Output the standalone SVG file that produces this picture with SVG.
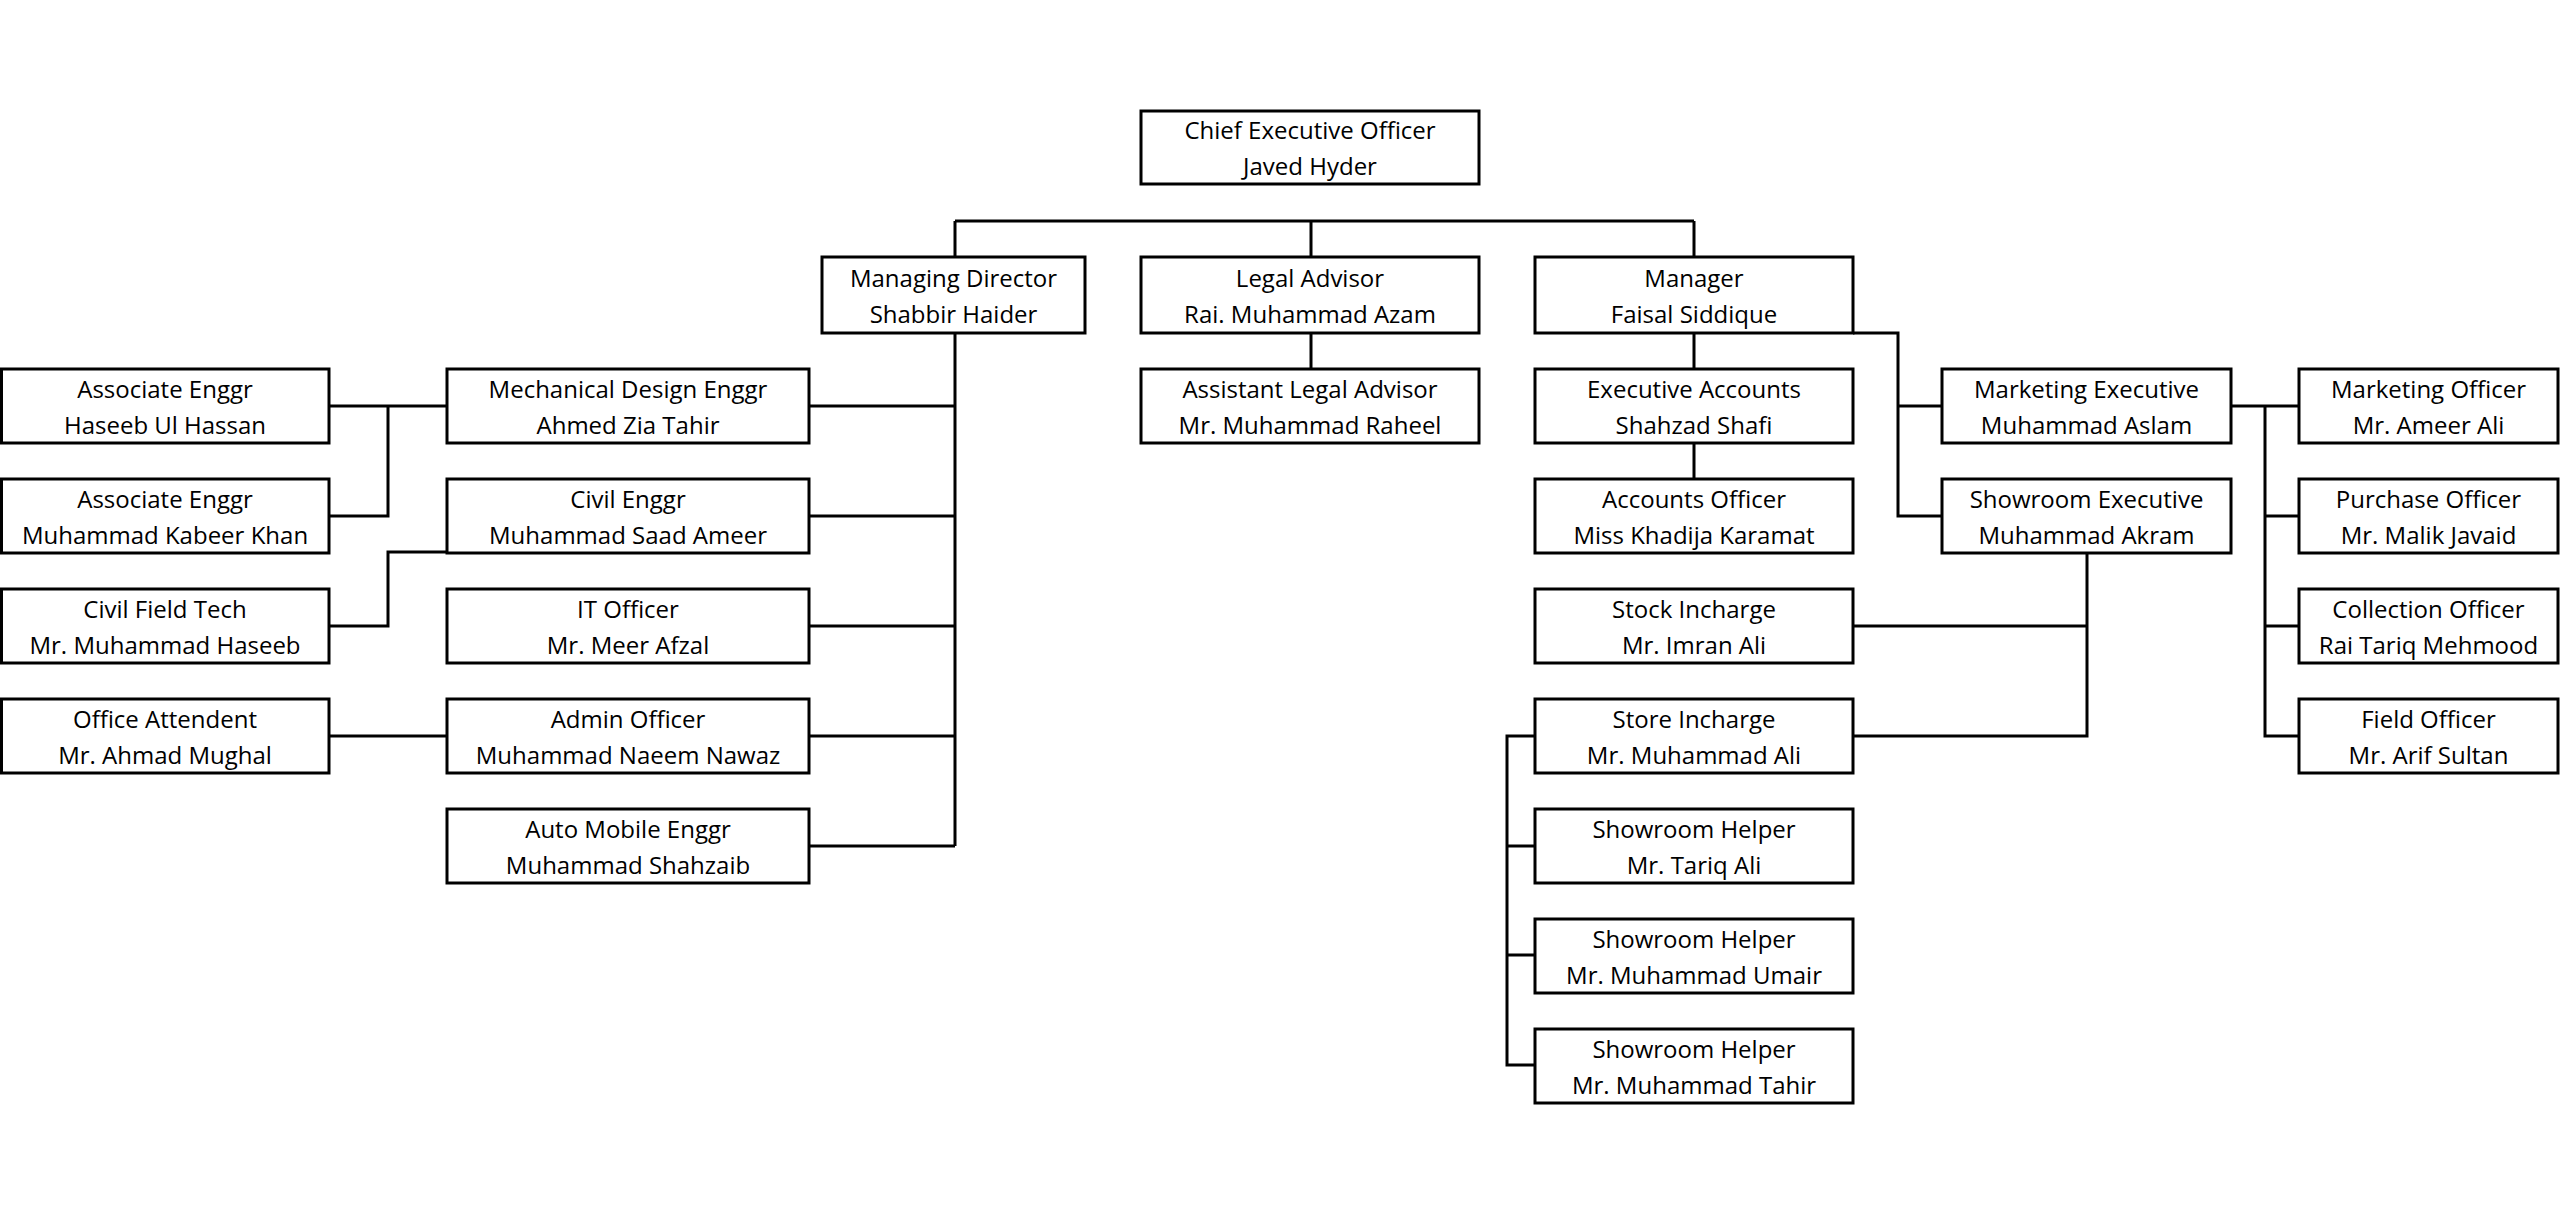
<svg xmlns="http://www.w3.org/2000/svg" width="2560" height="1213" viewBox="0 0 2560 1213">
<style>
.box{fill:#fff;stroke:#000;stroke-width:3}
.t{font-family:"Open Sans","Noto Sans",sans-serif;font-size:24px;fill:#000;text-anchor:middle}
.c{fill:none;stroke:#000;stroke-width:3}
</style>
<rect width="2560" height="1213" fill="#fff"/>
<g id="connectors" class="c">
<path d="M955 221H1694M955 221V257M1311 221V258M1694 221V257"/>
<path d="M1311 332V369"/>
<path d="M955 333V846M809 406H955M809 516H955M809 626H955M809 736H955M809 846H955"/>
<path d="M329 406H447M388 406V516H329M329 626H388V552H447M329 736H447"/>
<path d="M1694 333V369M1694 443V479"/>
<path d="M1853 333H1898V516H1942M1898 406H1942"/>
<path d="M2087 552V736H1853M1853 626H2087"/>
<path d="M1535 736H1507V1065H1535M1507 846H1535M1507 955H1535"/>
<path d="M2231 406H2299M2265 406V736H2299M2265 516H2299M2265 626H2299"/>
</g>
<g id="ceo"><rect class="box" x="1141" y="111" width="338" height="73"/><text class="t" x="1310" y="139">Chief Executive Officer</text><text class="t" x="1310" y="175">Javed Hyder</text></g>
<g id="md"><rect class="box" x="822" y="257" width="263" height="76"/><text class="t" x="953.5" y="287">Managing Director</text><text class="t" x="953.5" y="323">Shabbir Haider</text></g>
<g id="legal"><rect class="box" x="1141" y="257" width="338" height="76"/><text class="t" x="1310" y="287">Legal Advisor</text><text class="t" x="1310" y="323">Rai. Muhammad Azam</text></g>
<g id="manager"><rect class="box" x="1535" y="257" width="318" height="76"/><text class="t" x="1694" y="287">Manager</text><text class="t" x="1694" y="323">Faisal Siddique</text></g>
<g id="assoc1"><rect class="box" x="1.5" y="369" width="327.5" height="74"/><text class="t" x="165" y="398">Associate Enggr</text><text class="t" x="165" y="434">Haseeb Ul Hassan</text></g>
<g id="assoc2"><rect class="box" x="1.5" y="479" width="327.5" height="74"/><text class="t" x="165" y="508">Associate Enggr</text><text class="t" x="165" y="544">Muhammad Kabeer Khan</text></g>
<g id="civiltech"><rect class="box" x="1.5" y="589" width="327.5" height="74"/><text class="t" x="165" y="618">Civil Field Tech</text><text class="t" x="165" y="654">Mr. Muhammad Haseeb</text></g>
<g id="officeatt"><rect class="box" x="1.5" y="699" width="327.5" height="74"/><text class="t" x="165" y="728">Office Attendent</text><text class="t" x="165" y="764">Mr. Ahmad Mughal</text></g>
<g id="mech"><rect class="box" x="447" y="369" width="362" height="74"/><text class="t" x="628" y="398">Mechanical Design Enggr</text><text class="t" x="628" y="434">Ahmed Zia Tahir</text></g>
<g id="civil"><rect class="box" x="447" y="479" width="362" height="74"/><text class="t" x="628" y="508">Civil Enggr</text><text class="t" x="628" y="544">Muhammad Saad Ameer</text></g>
<g id="it"><rect class="box" x="447" y="589" width="362" height="74"/><text class="t" x="628" y="618">IT Officer</text><text class="t" x="628" y="654">Mr. Meer Afzal</text></g>
<g id="admin"><rect class="box" x="447" y="699" width="362" height="74"/><text class="t" x="628" y="728">Admin Officer</text><text class="t" x="628" y="764">Muhammad Naeem Nawaz</text></g>
<g id="auto"><rect class="box" x="447" y="809" width="362" height="74"/><text class="t" x="628" y="838">Auto Mobile Enggr</text><text class="t" x="628" y="874">Muhammad Shahzaib</text></g>
<g id="asstlegal"><rect class="box" x="1141" y="369" width="338" height="74"/><text class="t" x="1310" y="398">Assistant Legal Advisor</text><text class="t" x="1310" y="434">Mr. Muhammad Raheel</text></g>
<g id="execacc"><rect class="box" x="1535" y="369" width="318" height="74"/><text class="t" x="1694" y="398">Executive Accounts</text><text class="t" x="1694" y="434">Shahzad Shafi</text></g>
<g id="accoff"><rect class="box" x="1535" y="479" width="318" height="74"/><text class="t" x="1694" y="508">Accounts Officer</text><text class="t" x="1694" y="544">Miss Khadija Karamat</text></g>
<g id="stock"><rect class="box" x="1535" y="589" width="318" height="74"/><text class="t" x="1694" y="618">Stock Incharge</text><text class="t" x="1694" y="654">Mr. Imran Ali</text></g>
<g id="store"><rect class="box" x="1535" y="699" width="318" height="74"/><text class="t" x="1694" y="728">Store Incharge</text><text class="t" x="1694" y="764">Mr. Muhammad Ali</text></g>
<g id="helper1"><rect class="box" x="1535" y="809" width="318" height="74"/><text class="t" x="1694" y="838">Showroom Helper</text><text class="t" x="1694" y="874">Mr. Tariq Ali</text></g>
<g id="helper2"><rect class="box" x="1535" y="919" width="318" height="74"/><text class="t" x="1694" y="948">Showroom Helper</text><text class="t" x="1694" y="984">Mr. Muhammad Umair</text></g>
<g id="helper3"><rect class="box" x="1535" y="1029" width="318" height="74"/><text class="t" x="1694" y="1058">Showroom Helper</text><text class="t" x="1694" y="1094">Mr. Muhammad Tahir</text></g>
<g id="mktexec"><rect class="box" x="1942" y="369" width="289" height="74"/><text class="t" x="2086.5" y="398">Marketing Executive</text><text class="t" x="2086.5" y="434">Muhammad Aslam</text></g>
<g id="showexec"><rect class="box" x="1942" y="479" width="289" height="74"/><text class="t" x="2086.5" y="508">Showroom Executive</text><text class="t" x="2086.5" y="544">Muhammad Akram</text></g>
<g id="mktoff"><rect class="box" x="2299" y="369" width="259" height="74"/><text class="t" x="2428.5" y="398">Marketing Officer</text><text class="t" x="2428.5" y="434">Mr. Ameer Ali</text></g>
<g id="purchase"><rect class="box" x="2299" y="479" width="259" height="74"/><text class="t" x="2428.5" y="508">Purchase Officer</text><text class="t" x="2428.5" y="544">Mr. Malik Javaid</text></g>
<g id="collection"><rect class="box" x="2299" y="589" width="259" height="74"/><text class="t" x="2428.5" y="618">Collection Officer</text><text class="t" x="2428.5" y="654">Rai Tariq Mehmood</text></g>
<g id="field"><rect class="box" x="2299" y="699" width="259" height="74"/><text class="t" x="2428.5" y="728">Field Officer</text><text class="t" x="2428.5" y="764">Mr. Arif Sultan</text></g>
</svg>
